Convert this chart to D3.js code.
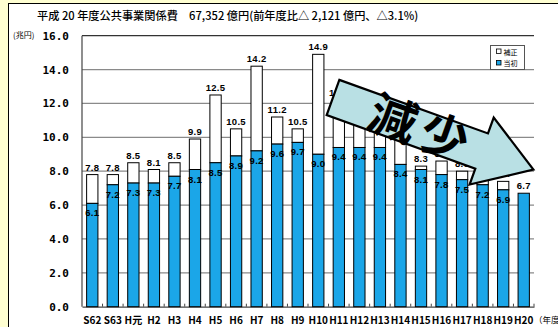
<!DOCTYPE html>
<html>
<head>
<meta charset="utf-8">
<script src="https://cdn.jsdelivr.net/npm/d3@7"></script>
<style>
  body { margin: 0; background: #ffffd2; }
  svg { display: block; }
</style>
</head>
<body>
<div id="chart"></div>
<script>
// 年度
const years = ["S62", "S63", "H元", "H2", "H3", "H4", "H5", "H6", "H7", "H8", "H9", "H10",
  "H11", "H12", "H13", "H14", "H15", "H16", "H17", "H18", "H19", "H20"];
// 当初 (兆円)
const initial = [6.1, 7.2, 7.3, 7.3, 7.7, 8.1, 8.5, 8.9, 9.2, 9.6, 9.7, 9.0,
  9.4, 9.4, 9.4, 8.4, 8.1, 7.8, 7.5, 7.2, 6.9, 6.7];
// 補正後 total (兆円)
const totals = [7.8, 7.8, 8.5, 8.1, 8.5, 9.9, 12.5, 10.5, 14.2, 11.2, 10.5, 14.9,
  12.2, 11.1, 10.7, 10.0, 8.3, 8.6, 8.0, 7.8, 7.4, 6.7];
const yTicks = [0, 2, 4, 6, 8, 10, 12, 14, 16];

const W = 558, H = 327;
const margin = { top: 35.7, right: 24, bottom: 20.3, left: 82 };
const blue = "#1ba6e8";

const svg = d3.select("#chart").append("svg")
  .attr("width", W).attr("height", H);

// yellow page + white panel
svg.append("rect").attr("width", W).attr("height", H).attr("fill", "#ffffd2");
svg.append("rect")
  .attr("x", 8.5).attr("y", 3.5).attr("width", W + 10).attr("height", H + 10)
  .attr("fill", "#fff").attr("stroke", "#000").attr("stroke-width", 1);

svg.append("text")
  .attr("x", 37).attr("y", 20)
  .attr("font-family", "'Noto Sans CJK JP'").attr("font-size", 11.2).attr("font-weight", 500)
  .text("平成 20 年度公共事業関係費　67,352 億円(前年度比△ 2,121 億円、△3.1%)");

const x = d3.scaleBand()
  .domain(years)
  .range([margin.left, W - margin.right])
  .paddingInner(0.45)
  .paddingOuter(0.225);

const y = d3.scaleLinear()
  .domain([0, 16])
  .range([H - margin.bottom, margin.top]);

// grid
svg.append("g")
  .selectAll("line")
  .data(yTicks.filter(d => d > 0))
  .join("line")
    .attr("x1", margin.left).attr("x2", W - margin.right)
    .attr("y1", d => y(d)).attr("y2", d => y(d))
    .attr("stroke", d => d === 16 ? "#333" : "#8a8a8a")
    .attr("stroke-width", 1.2);

// y labels
svg.append("g")
  .selectAll("text")
  .data(yTicks)
  .join("text")
    .attr("x", 69).attr("y", d => y(d) + 4)
    .attr("text-anchor", "end")
    .attr("font-family", "'DejaVu Sans Mono'").attr("font-weight", "bold")
    .attr("font-size", 11)
    .text(d => d.toFixed(1));

svg.append("text")
  .attr("x", 13).attr("y", 38)
  .attr("font-family", "'Noto Sans CJK JP'").attr("font-size", 8)
  .text("(兆円)");

// axes lines
svg.append("line")
  .attr("x1", margin.left).attr("x2", margin.left)
  .attr("y1", y(16)).attr("y2", y(0))
  .attr("stroke", "#444").attr("stroke-width", 1.2);

const xAxis = svg.append("g")
  .attr("transform", `translate(0, ${y(0)})`)
  .call(d3.axisBottom(x).tickSize(0).tickPadding(10));
xAxis.select(".domain").attr("stroke", "#444").attr("stroke-width", 1.2);
xAxis.selectAll("text")
  .attr("font-family", "'Noto Sans CJK JP'").attr("font-weight", "bold")
  .attr("font-size", 10).attr("fill", "#000");

// small ticks at band boundaries
svg.append("g")
  .selectAll("line")
  .data(years.slice(1).concat(["end"]))
  .join("line")
    .attr("x1", (d, i) => x(years[0]) - x.step() * x.paddingInner() / 2 + x.step() * (i + 1))
    .attr("x2", (d, i) => x(years[0]) - x.step() * x.paddingInner() / 2 + x.step() * (i + 1))
    .attr("y1", y(0)).attr("y2", y(0) - 3)
    .attr("stroke", "#444");

svg.append("text")
  .attr("x", 534).attr("y", 323)
  .attr("font-family", "'Noto Sans CJK JP'").attr("font-size", 8.5)
  .text("（年度");

// bars
const rows = years.map((d, i) => ({ year: d, base: initial[i], total: totals[i] }));

const bars = svg.append("g");
bars.selectAll("rect.sup")
  .data(rows.filter(d => d.total > d.base))
  .join("rect")
    .attr("class", "sup")
    .attr("x", d => x(d.year)).attr("width", x.bandwidth())
    .attr("y", d => y(d.total)).attr("height", d => y(d.base) - y(d.total))
    .attr("fill", "#fff").attr("stroke", "#000").attr("stroke-width", 1);

bars.selectAll("rect.base")
  .data(rows)
  .join("rect")
    .attr("class", "base")
    .attr("x", d => x(d.year)).attr("width", x.bandwidth())
    .attr("y", d => y(d.base)).attr("height", d => y(0) - y(d.base))
    .attr("fill", blue).attr("stroke", "#000").attr("stroke-width", 1);

const labelFont = sel => sel
  .attr("font-family", "'Liberation Sans', Arial").attr("font-weight", "bold")
  .attr("font-size", 9.5).attr("text-anchor", "middle").attr("letter-spacing", 0.3);

bars.selectAll("text.tot")
  .data(rows)
  .join("text")
    .attr("class", "tot")
    .attr("x", d => x(d.year) + x.bandwidth() / 2)
    .attr("y", d => y(d.total) - 4)
    .call(labelFont)
    .text(d => d.total.toFixed(1));

bars.selectAll("text.ini")
  .data(rows.filter(d => d.total > d.base))
  .join("text")
    .attr("class", "ini")
    .attr("x", d => x(d.year) + x.bandwidth() / 2)
    .attr("y", d => y(d.base) + 13)
    .call(labelFont)
    .text(d => d.base.toFixed(1));

// legend
const lg = svg.append("g").attr("transform", "translate(490.5, 45.5)");
lg.append("rect").attr("width", 34).attr("height", 24)
  .attr("fill", "#fff").attr("stroke", "#555");
[["補正", "#fff"], ["当初", blue]].forEach(([name, c], i) => {
  lg.append("rect").attr("x", 6).attr("y", 3.5 + i * 11.5).attr("width", 4.5).attr("height", 4.5)
    .attr("fill", c).attr("stroke", "#000").attr("stroke-width", 0.8);
  lg.append("text").attr("x", 13).attr("y", 9 + i * 11.5)
    .attr("font-family", "'Noto Sans CJK JP'").attr("font-size", 7)
    .text(name);
});

// 減少 arrow
const arrow = svg.append("g")
  .attr("transform", "translate(333, 97.5) rotate(19.8)");
arrow.append("path")
  .attr("d", d3.line()([[0, -18.7], [158, -18.7], [158, -35.6], [213, 0], [158, 35.6], [158, 18.7], [0, 18.7]]) + "Z")
  .attr("fill", "#b9e0e4").attr("stroke", "#000").attr("stroke-width", 2.2)
  .attr("stroke-linejoin", "miter");
arrow.append("text")
  .attr("x", 94).attr("y", 17)
  .attr("text-anchor", "middle")
  .attr("font-family", "'Noto Sans CJK JP'").attr("font-weight", 700)
  .attr("font-size", 48).attr("letter-spacing", 6)
  .text("減少");
</script>
</body>
</html>
